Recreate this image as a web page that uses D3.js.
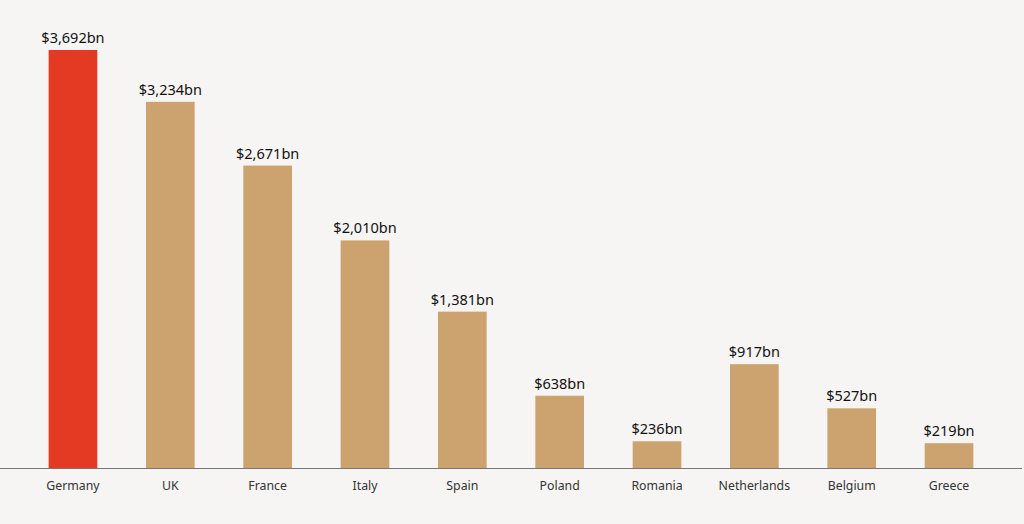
<!DOCTYPE html>
<html><head><meta charset="utf-8">
<script src="https://cdn.jsdelivr.net/npm/d3@7"></script>
<style>
html,body{margin:0;padding:0;background:#f6f5f3;}
svg{display:block;}
</style></head>
<body>
<svg id="chart" width="1024" height="524"></svg>
<script>
const categories = ["Germany","UK","France","Italy","Spain","Poland","Romania","Netherlands","Belgium","Greece"];
const values = [3692,3234,2671,2010,1381,638,236,917,527,219];
const highlight = ["Germany"];

const W = 1024, H = 524;
const baseY = 468, topY = 50;
const svg = d3.select("#chart");
svg.append("rect").attr("width",W).attr("height",H).attr("fill","#f6f5f3");

const x = d3.scaleBand().domain(categories).range([24.3, 997.7]).paddingInner(0.5).paddingOuter(0.25);
const y = d3.scaleLinear().domain([0, d3.max(values)]).range([baseY, topY]);

const data = categories.map((c,i)=>({c, v: values[i]}));

svg.selectAll("rect.bar").data(data).join("rect")
  .attr("class","bar")
  .attr("x", d=>x(d.c))
  .attr("width", x.bandwidth())
  .attr("y", d=>y(d.v))
  .attr("height", d=>baseY - y(d.v))
  .attr("fill", d=> highlight.includes(d.c) ? "#e43a24" : "#cca26e");

svg.selectAll("text.val").data(data).join("text")
  .attr("class","val")
  .attr("x", d=>x(d.c)+x.bandwidth()/2)
  .attr("y", d=>y(d.v)-7)
  .attr("text-anchor","middle")
  .attr("font-family","'Noto Sans', sans-serif")
  .attr("font-size",14.5)
  .attr("fill","#121212")
  .text(d=>"$"+d3.format(",")(d.v)+"bn");

const axis = d3.axisBottom(x).tickSize(0).tickPadding(13);
const g = svg.append("g").attr("transform",`translate(0,${baseY})`).call(axis);
g.select(".domain").remove();
g.selectAll("text").attr("font-family","'Noto Sans', sans-serif").attr("font-size",12.3).attr("fill","#333");

svg.append("line").attr("x1",0).attr("x2",1022).attr("y1",baseY+0.5).attr("y2",baseY+0.5)
  .attr("stroke","#777").attr("stroke-width",1.2);
</script>
</body></html>
